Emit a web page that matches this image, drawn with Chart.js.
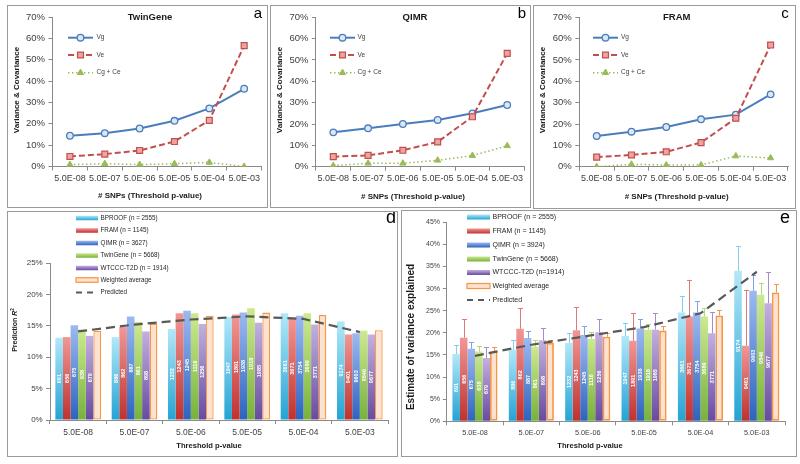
<!DOCTYPE html>
<html><head><meta charset="utf-8">
<script src="https://cdn.jsdelivr.net/npm/chart.js@4.4.0/dist/chart.umd.min.js"></script>
<style>
body{margin:0;background:#fff;width:800px;height:464px;position:relative;overflow:hidden;}
.panel{position:absolute;border:1px solid #9a9a9a;box-sizing:border-box;background:#fff;}
.panel canvas{position:absolute;left:0;top:0;}
</style></head><body>
<div class="panel" style="left:7px;top:5px;width:261px;height:203px"><canvas id="ca"></canvas></div>
<div class="panel" style="left:270px;top:5px;width:261px;height:203px"><canvas id="cb"></canvas></div>
<div class="panel" style="left:533px;top:5px;width:263px;height:204px"><canvas id="cc"></canvas></div>
<div class="panel" style="left:7px;top:211px;width:391px;height:246px"><canvas id="cd"></canvas></div>
<div class="panel" style="left:401px;top:210px;width:396px;height:247px"><canvas id="ce"></canvas></div>
<script>
// ---------------- DATA ----------------
const thresholds = ['5.0E-08','5.0E-07','5.0E-06','5.0E-05','5.0E-04','5.0E-03'];
const lineSeriesNames = ['Vg','Ve','Cg + Ce'];
const twinVg   = [14.4,15.6,17.8,21.4,27.2,36.4];
const twinVe   = [4.7,5.8,7.5,11.7,21.6,56.6];
const twinCgCe = [0.9,1.3,0.9,1.3,1.9,0.0];
const qimrVg   = [16.1,18.0,20.0,21.9,25.0,28.9];
const qimrVe   = [4.7,5.3,7.7,11.6,23.4,53.1];
const qimrCgCe = [0.5,1.6,1.6,3.0,5.2,9.8];
const framVg   = [14.4,16.4,18.6,22.2,24.4,33.9];
const framVe   = [4.5,5.5,7.0,11.3,22.7,57.0];
const framCgCe = [0.0,1.1,0.8,0.8,5.0,4.1];

const cohortNamesD = ['BPROOF (n = 2555)','FRAM (n = 1145)','QIMR (n = 3627)','TwinGene (n = 5668)','WTCCC-T2D (n = 1914)','Weighted average'];
const cohortNamesE = ['BPROOF (n = 2555)','FRAM (n = 1145)','QIMR (n = 3924)','TwinGene (n = 5668)','WTCCC-T2D (n=1914)','Weighted average'];
const predictedName = 'Predicted';

// Panel d: prediction R2 (%)
const r2Bproof   = [13.1,13.2,14.5,16.4,17.0,15.7];
const r2Fram     = [13.2,14.8,17.0,16.8,16.3,13.6];
const r2Qimr     = [15.1,16.5,17.4,17.1,16.6,13.8];
const r2Twin     = [14.4,15.6,17.0,17.8,17.0,14.2];
const r2Wtccc    = [13.4,14.1,15.3,15.5,15.2,13.6];
const r2Weighted = [14.2,15.3,16.6,17.1,16.7,14.3];
const r2Predicted= [14.1,15.2,16.0,16.5,16.1,14.0];

// Panel e: estimate of variance explained (%) and upper error
const estBproof   = [15.2,16.2,17.7,19.3,24.6,34.0];
const estFram     = [18.9,20.9,20.6,18.2,23.7,17.1];
const estQimr     = [16.4,18.8,19.5,21.0,24.6,29.5];
const estTwin     = [15.8,16.9,18.6,20.7,23.7,28.6];
const estWtccc    = [14.3,18.3,20.1,20.7,19.9,26.7];
const estWeighted = [15.8,17.7,19.1,20.5,23.9,29.1];
const estPredicted= [14.8,17.3,19.3,21.3,24.4,33.8];
const errBproof   = [2.1,2.2,2.2,3.0,3.7,5.7];
const errFram     = [4.3,4.7,5.2,6.2,8.2,12.6];
const errQimr     = [1.5,1.5,2.0,2.1,2.5,3.6];
const errTwin     = [1.3,1.5,1.6,1.2,1.9,2.6];
const errWtccc    = [2.6,2.9,3.0,3.7,4.9,7.0];
const errWeighted = [0.9,0.7,0.9,1.1,1.3,1.9];

// Number of SNPs labels inside bars
const snpBproof = ['691','886','1232','1947','3661','9174'];
const snpFram   = ['656','862','1243','1891','3671','9401'];
const snpQimr   = ['675','887','1245','1938','3754','9603'];
const snpTwin   = ['638','861','1116','1918','3689','9546'];
const snpWtccc  = ['679','898','1256','1985','3771','9677'];

const lineTicksMax = 70, lineTicksStep = 10;
const dTicksMax = 25, dTicksStep = 5;
const eTicksMax = 45, eTicksStep = 5;

// ---------------- STYLE ----------------
const FONT = "'Liberation Sans', Arial, sans-serif";
const AXIS = '#8a8a8a';
const TICKC = '#404040';
Chart.defaults.font.family = FONT;
Chart.defaults.color = TICKC;
Chart.defaults.animation = false;
Chart.defaults.plugins.legend.display = false;
Chart.defaults.plugins.tooltip.enabled = false;

const LINE_STYLES = [
  {color:'#4a7ebb', width:2, dash:[], point:'circle', r:3.3, fill:'#dce7f5', pbw:1.3},
  {color:'#c0504d', width:2, dash:[6,3], point:'rect', r:4.2, fill:'#eea3a1', pbw:1.2},
  {color:'#9bbb59', width:1.5, dash:[1.5,2.5], point:'triangle', r:3.6, fill:'#9bbb59', pbw:1}
];
const BAR_STYLES = [
  {light:'#b2e8f9', dark:'#23a3d3', err:'#7fd0ee'},
  {light:'#f29794', dark:'#c0312d', err:'#e07a76'},
  {light:'#9dbaf0', dark:'#2c63bf', err:'#7fa2e4'},
  {light:'#cde98f', dark:'#76b23a', err:'#b4d77a'},
  {light:'#c3b0df', dark:'#674a9f', err:'#a58dcd'},
  {light:'#fde3cf', dark:'#fde3cf', err:'#f79646'}
];

// ---------------- PLUGINS ----------------
const textPlugin = {
  id:'texts',
  afterDraw(chart, args, opts){
    const ctx = chart.ctx;
    (opts.items||[]).forEach(it=>{
      ctx.save();
      ctx.translate(it.x, it.y);
      if (it.rotate) ctx.rotate(it.rotate);
      ctx.textBaseline = 'middle';
      ctx.fillStyle = it.color || '#1a1a1a';
      const parts = it.parts || [{text:it.text, font:it.font}];
      let total = 0;
      parts.forEach(p=>{ ctx.font = p.font; total += ctx.measureText(p.text).width; });
      let x = -total/2;
      ctx.textAlign = 'left';
      parts.forEach(p=>{ ctx.font = p.font; ctx.fillText(p.text, x, p.dy||0); x += ctx.measureText(p.text).width; });
      ctx.restore();
    });
  }
};

function drawMarker(ctx, st, x, y){
  ctx.save();
  ctx.fillStyle = st.fill; ctx.strokeStyle = st.color; ctx.lineWidth = st.pbw; ctx.setLineDash([]);
  Chart.helpers.drawPoint(ctx, {pointStyle: st.point, rotation:0, radius: st.r, borderWidth: st.pbw}, x, y);
  ctx.restore();
}

const lineLegendPlugin = {
  id:'lineLegend',
  afterDraw(chart, args, o){
    if (!o || !o.ys) return;
    const ctx = chart.ctx;
    chart.data.datasets.forEach((ds,i)=>{
      const st = LINE_STYLES[i]; const y = o.ys[i];
      ctx.save();
      ctx.strokeStyle = st.color; ctx.lineWidth = st.width; ctx.setLineDash(st.dash);
      ctx.beginPath(); ctx.moveTo(o.x0, y); ctx.lineTo(o.x1, y); ctx.stroke();
      ctx.restore();
      drawMarker(ctx, st, (o.x0+o.x1)/2, y);
      ctx.save();
      ctx.font = o.font; ctx.fillStyle = '#404040'; ctx.textBaseline = 'middle'; ctx.textAlign='left';
      ctx.fillText(ds.label, o.tx, y);
      ctx.restore();
    });
  }
};

const barLegendPlugin = {
  id:'barLegend',
  afterDraw(chart, args, o){
    if (!o || !o.ys) return;
    const ctx = chart.ctx;
    chart.data.datasets.forEach((ds,i)=>{
      const y = o.ys[i];
      ctx.save();
      if (ds.type === 'line'){
        ctx.strokeStyle = '#595959'; ctx.lineWidth = 2; ctx.setLineDash([6,5]);
        ctx.beginPath(); ctx.moveTo(o.x0, y); ctx.lineTo(o.x1, y); ctx.stroke();
      } else if (i === 5){
        ctx.fillStyle = BAR_STYLES[5].light; ctx.fillRect(o.x0, y-o.h/2, o.x1-o.x0, o.h);
        ctx.strokeStyle = '#f79646'; ctx.lineWidth = 1.2; ctx.strokeRect(o.x0, y-o.h/2, o.x1-o.x0, o.h);
      } else {
        const g = ctx.createLinearGradient(0, y-o.h/2, 0, y+o.h/2);
        g.addColorStop(0, BAR_STYLES[i].light); g.addColorStop(1, BAR_STYLES[i].dark);
        ctx.fillStyle = g; ctx.fillRect(o.x0, y-o.h/2, o.x1-o.x0, o.h);
      }
      ctx.restore();
      ctx.save();
      ctx.font = o.font; ctx.fillStyle = '#262626'; ctx.textBaseline='middle'; ctx.textAlign='left';
      ctx.fillText(ds.label, o.tx, y);
      ctx.restore();
    });
  }
};

const barExtrasPlugin = {
  id:'barExtras',
  afterDatasetDraw(chart, args, o){
    const ds = chart.data.datasets[args.index];
    if (ds.type !== 'bar') return;
    const ctx = chart.ctx; const ys = chart.scales.y;
    args.meta.data.forEach((bar, j)=>{
      const p = bar.getProps(['x','y','base'], true);
      const xc = Math.round(p.x) + 0.5;
      if (ds.errorValues){
        const yt = Math.round(ys.getPixelForValue(ds.data[j] + ds.errorValues[j])) + 0.5;
        ctx.save();
        ctx.strokeStyle = BAR_STYLES[args.index].err; ctx.lineWidth = 1;
        ctx.beginPath(); ctx.moveTo(xc, p.y); ctx.lineTo(xc, yt);
        ctx.moveTo(xc-2.5, yt); ctx.lineTo(xc+2.5, yt); ctx.stroke();
        ctx.restore();
      }
      if (ds.snpLabels){
        ctx.save();
        ctx.translate(p.x, (p.y + p.base)/2);
        ctx.rotate(-Math.PI/2);
        ctx.font = o.font || ('bold 6px ' + FONT);
        ctx.fillStyle = '#ffffff'; ctx.textAlign='center'; ctx.textBaseline='middle';
        ctx.fillText(ds.snpLabels[j], 0, 0.5);
        ctx.restore();
      }
    });
  }
};

function barGradient(c, i){
  const chart = c.chart;
  const st = BAR_STYLES[i];
  const ys = chart.scales && chart.scales.y;
  if (c.type !== 'data' || !ys || !chart.chartArea) return st.dark;
  const top = ys.getPixelForValue(c.raw), base = ys.getPixelForValue(0);
  if (!isFinite(top) || !isFinite(base) || Math.abs(base-top) < 1) return st.dark;
  const g = chart.ctx.createLinearGradient(0, top, 0, base);
  g.addColorStop(0, st.light); g.addColorStop(1, st.dark);
  return g;
}

// ---------------- BUILDERS ----------------
function makeLineChart(id, w, h, area, series, texts, legend){
  const cv = document.getElementById(id);
  cv.width = w; cv.height = h;
  return new Chart(cv, {
    type:'line',
    data:{labels: thresholds, datasets: series.map((vals,i)=>{
      const st = LINE_STYLES[i];
      return {label: lineSeriesNames[i], data: vals, borderColor: st.color, borderWidth: st.width,
        borderDash: st.dash, pointStyle: st.point, pointRadius: st.r, pointBackgroundColor: st.fill,
        pointBorderColor: st.color, pointBorderWidth: st.pbw, tension: 0, fill:false, order: 3-i};
    })},
    options:{
      responsive:false,
      layout:{padding:{left:0, top:area.top, right:w-area.right, bottom:0}},
      scales:{
        x:{offset:true, grid:{offset:true, drawOnChartArea:false, tickLength:4, color:AXIS},
           border:{color:AXIS}, ticks:{font:{size:9}, padding:2.5, maxRotation:0, minRotation:0, autoSkip:false, color:TICKC},
           afterFit(s){ s.height = h - area.bottom; }},
        y:{min:0, max:lineTicksMax, grid:{drawOnChartArea:false, tickLength:4, color:AXIS},
           border:{color:AXIS}, ticks:{stepSize:lineTicksStep, font:{size:9.5}, padding:3.5, color:TICKC, callback:v=>v+'%'},
           afterFit(s){ s.width = area.left; }}
      },
      plugins:{texts:{items:texts}, lineLegend:legend}
    },
    plugins:[textPlugin, lineLegendPlugin]
  });
}

function makeBarChart(id, w, h, area, c){
  const cv = document.getElementById(id);
  cv.width = w; cv.height = h;
  const datasets = c.series.map((vals,i)=>({
    type:'bar', label:c.names[i], data: vals, order:2,
    backgroundColor: i===5 ? BAR_STYLES[5].light : (ctx)=>barGradient(ctx, i),
    borderColor: i===5 ? '#f79646' : 'rgba(0,0,0,0)',
    borderWidth: i===5 ? c.wBorder : 0, borderSkipped: false,
    categoryPercentage: c.catPct, barPercentage: 1.0,
    errorValues: c.errors ? c.errors[i] : null,
    snpLabels: c.snp[i] || null
  }));
  datasets.push({type:'line', label: predictedName, data: c.predicted, order:0,
    borderColor:'#595959', borderWidth:2.2, borderDash:[9,5], pointRadius:0, fill:false, tension:0});
  return new Chart(cv, {
    type:'bar',
    data:{labels: thresholds, datasets},
    options:{
      responsive:false,
      layout:{padding:{left:0, top:area.top, right:w-area.right, bottom:0}},
      scales:{
        x:{grid:{offset:true, drawOnChartArea:false, tickLength:4, color:AXIS},
           border:{color:AXIS}, ticks:{font:{size:c.xFont}, padding:c.xPad, maxRotation:0, minRotation:0, autoSkip:false, color:TICKC},
           afterFit(s){ s.height = h - area.bottom; }},
        y:{min:0, max:c.yMax, grid:{drawOnChartArea:false, tickLength:4, color:AXIS},
           border:{color:AXIS}, ticks:{stepSize:c.yStep, font:{size:c.yFont}, padding:c.yPad, color:TICKC, callback:v=>v+'%'},
           afterFit(s){ s.width = area.left; }}
      },
      plugins:{texts:{items:c.texts}, barLegend:c.legend, barExtras:{font:c.labelFont}}
    },
    plugins:[textPlugin, barLegendPlugin, barExtrasPlugin]
  });
}

const B = (s)=>'bold '+s+'px '+FONT;
const N = (s)=>s+'px '+FONT;
const ROT = -Math.PI/2;

// Panel a
makeLineChart('ca', 259, 201, {left:44.5, right:254.5, top:11, bottom:160.5},
  [twinVg, twinVe, twinCgCe],
  [{text:'TwinGene', x:142, y:11, font:B(9.5)},
   {text:'a', x:250, y:7.5, font:N(15), color:'#000'},
   {text:'Variance & Covariance', x:8.3, y:84, font:B(8), rotate:ROT},
   {text:'# SNPs (Threshold p-value)', x:142, y:190, font:B(8)}],
  {x0:60, x1:85, tx:88.5, ys:[31.7,49,66.7], font:N(6.5)});

// Panel b
makeLineChart('cb', 259, 201, {left:44.9, right:253.7, top:11.3, bottom:160.7},
  [qimrVg, qimrVe, qimrCgCe],
  [{text:'QIMR', x:144, y:11, font:B(9.5)},
   {text:'b', x:251, y:8, font:N(15), color:'#000'},
   {text:'Variance & Covariance', x:9, y:84, font:B(8), rotate:ROT},
   {text:'# SNPs (Threshold p-value)', x:142, y:191, font:B(8)}],
  {x0:59, x1:84, tx:86.5, ys:[31.7,49,66.7], font:N(6.5)});

// Panel c
makeLineChart('cc', 261, 202, {left:45.3, right:254, top:11.3, bottom:160.7},
  [framVg, framVe, framCgCe],
  [{text:'FRAM', x:142.7, y:11, font:B(9.5)},
   {text:'c', x:251, y:8, font:N(15), color:'#000'},
   {text:'Variance & Covariance', x:9, y:84, font:B(8), rotate:ROT},
   {text:'# SNPs (Threshold p-value)', x:142.7, y:191, font:B(8)}],
  {x0:59, x1:84, tx:87, ys:[31.7,49,66.7], font:N(6.5)});

// Panel d
makeBarChart('cd', 389, 244, {left:42, right:380, top:51, bottom:208}, {
  names: cohortNamesD,
  series:[r2Bproof, r2Fram, r2Qimr, r2Twin, r2Wtccc, r2Weighted],
  predicted: r2Predicted,
  snp:[snpBproof, snpFram, snpQimr, snpTwin, snpWtccc, null],
  errors:null,
  yMax:dTicksMax, yStep:dTicksStep, catPct:0.81, wBorder:1.3,
  xFont:8.5, xPad:3.3, yFont:8, yPad:3.3, labelFont:B(5.5),
  texts:[{text:'d', x:383, y:6, font:N(18), color:'#000'},
         {parts:[{text:'Prediction ', font:B(7)},{text:'R', font:'italic bold 7px '+FONT},{text:'2', font:B(4.5), dy:-2}], x:7, y:118, rotate:ROT},
         {text:'Threshold p-value', x:201, y:234, font:B(7.6)}],
  legend:{x0:68, x1:90, tx:92.5, h:4.5, ys:[6,18.5,31,43.5,56,68,80.5], font:N(6.3)}
});

// Panel e
makeBarChart('ce', 394, 245, {left:44.8, right:383, top:11.2, bottom:210.3}, {
  names: cohortNamesE,
  series:[estBproof, estFram, estQimr, estTwin, estWtccc, estWeighted],
  predicted: estPredicted,
  snp:[snpBproof, snpFram, snpQimr, snpTwin, snpWtccc, null],
  errors:[errBproof, errFram, errQimr, errTwin, errWtccc, errWeighted],
  yMax:eTicksMax, yStep:eTicksStep, catPct:0.80, wBorder:1.8,
  xFont:7.3, xPad:3, yFont:7, yPad:2.8, labelFont:B(5.5),
  texts:[{text:'e', x:383, y:7, font:N(18), color:'#000'},
         {text:'Estimate of variance explained', x:9, y:126, font:B(10), rotate:ROT},
         {text:'Threshold p-value', x:188, y:235, font:B(7.6)}],
  legend:{x0:65, x1:88, tx:90.5, h:5, ys:[6,20,34,48,61.5,75,89], font:N(7)}
});
</script>
</body></html>
